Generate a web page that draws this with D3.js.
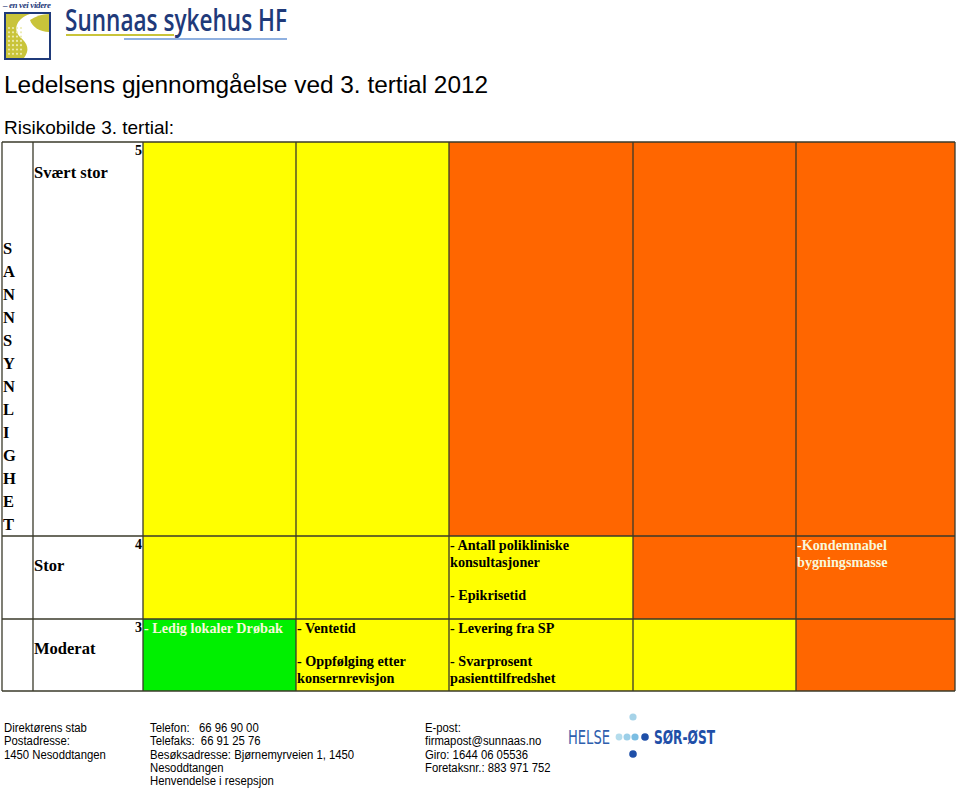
<!DOCTYPE html>
<html><head><meta charset="utf-8">
<script src="https://cdn.jsdelivr.net/npm/d3@7"></script>
<style>body{margin:0;background:#fff}svg{display:block}</style>
</head><body>
<script>
// ---- data ----
const titleText = "Ledelsens gjennomgåelse ved 3. tertial 2012";
const subtitleText = "Risikobilde 3. tertial:";
const axisWord = "SANNSYNLIGHET";
const rowLevels = [5, 4, 3];
const rowLabels = ["Svært stor", "Stor", "Moderat"];
const colLevels = [1, 2, 3, 4, 5];
// colour codes per row (Y = yellow, O = orange, G = green)
const row5Colors = ["Y", "Y", "O", "O", "O"];
const row4Colors = ["Y", "Y", "Y", "O", "O"];
const row3Colors = ["G", "Y", "Y", "Y", "O"];
// cell texts: [row, col, lines (empty string = blank line), light text?]
const cellTexts = [
  [4, 3, ["- Antall polikliniske", "konsultasjoner", "", "- Epikrisetid"], false],
  [4, 5, ["-Kondemnabel", "bygningsmasse"], true],
  [3, 1, ["- Ledig lokaler Drøbak"], true],
  [3, 2, ["- Ventetid", "", "- Oppfølging etter", "konsernrevisjon"], false],
  [3, 3, ["- Levering fra SP", "", "- Svarprosent", "pasienttilfredshet"], false]
];
const footerCol1 = ["Direktørens stab", "Postadresse:", "1450 Nesoddtangen"];
const footerCol2 = ["Telefon:   66 96 90 00", "Telefaks:  66 91 25 76", "Besøksadresse: Bjørnemyrveien 1, 1450", "Nesoddtangen", "Henvendelse i resepsjon"];
const footerCol3 = ["E-post:", "firmapost@sunnaas.no", "Giro: 1644 06 05536", "Foretaksnr.: 883 971 752"];

const colorMap = {Y: "#ffff00", O: "#ff6600", G: "#00f000"};

const W = 960, H = 789;
const svg = d3.select("body").append("svg").attr("width", W).attr("height", H)
  .style("font-family", "Liberation Sans, Arial, sans-serif");

// ---- scales ----
const x = d3.scaleLinear().domain([0, 1, 2, 3, 4, 5]).range([143, 296, 449, 633, 796, 955]);
const y = d3.scaleLinear().domain([6, 5, 4, 3]).range([142, 536, 619, 691]);
const xLeft = 2, xLab = 33;

// ---- header logo ----
const logo = svg.append("g");
logo.append("text").attr("x", 3).attr("y", 8).attr("font-family", "Liberation Serif, serif")
  .attr("font-style", "italic").attr("font-weight", "bold").attr("font-size", 9).attr("fill", "#1f3a7a")
  .attr("textLength", 48).text("– en vei videre");
logo.append("rect").attr("x", 5).attr("y", 13).attr("width", 45).attr("height", 46)
  .attr("fill", "#fff").attr("stroke", "#1f3a7a").attr("stroke-width", 2);
logo.append("path").attr("d", "M6,14 L30,14 C18,18 12,28 20,37 C28,44 30,50 24,58 L6,58 Z").attr("fill", "#c9c43a");
logo.append("path").attr("d", "M49,14 L49,32 C40,32 32,27 30,20 C36,16 42,14 49,14 Z").attr("fill", "#c9c43a");
const dots = [];
for (let i = 0; i < 4; i++) for (let j = 0; j < 7; j++) dots.push([9 + i * 4, 28 + j * 4.3]);
logo.selectAll("circle.d").data(dots).join("circle").attr("cx", d => d[0]).attr("cy", d => d[1]).attr("r", 1.1)
  .attr("fill", "#ecebb0");
logo.append("text").attr("x", 65).attr("y", 31).attr("font-family", "Open Sans, sans-serif").attr("font-weight", 600)
  .attr("font-size", 30).attr("fill", "#1f3a7a").attr("textLength", 222).attr("lengthAdjust", "spacingAndGlyphs")
  .text("Sunnaas sykehus HF");
logo.append("line").attr("x1", 66).attr("x2", 174).attr("y1", 35).attr("y2", 35).attr("stroke", "#c9c43a").attr("stroke-width", 2);
logo.append("line").attr("x1", 124).attr("x2", 287).attr("y1", 39).attr("y2", 39).attr("stroke", "#8fb0e0").attr("stroke-width", 2);

// ---- titles ----
svg.append("text").attr("x", 4).attr("y", 93).attr("font-size", 24.4).attr("fill", "#000").text(titleText);
svg.append("text").attr("x", 4).attr("y", 134).attr("font-size", 19).attr("fill", "#000").text(subtitleText);

// ---- cells ----
const colorRows = {5: row5Colors, 4: row4Colors, 3: row3Colors};
const cells = [];
rowLevels.forEach(r => colLevels.forEach((c, i) => cells.push({r, c, col: colorRows[r][i]})));
svg.append("g").selectAll("rect").data(cells).join("rect")
  .attr("x", d => x(d.c - 1)).attr("y", d => y(d.r + 1))
  .attr("width", d => x(d.c) - x(d.c - 1)).attr("height", d => y(d.r) - y(d.r + 1))
  .attr("fill", d => colorMap[d.col]);

// ---- grid lines ----
const grid = svg.append("g").attr("stroke", "#3a3a2a").attr("stroke-width", 1.3);
[xLeft, xLab, ...x.range()].forEach(v => grid.append("line").attr("x1", v).attr("x2", v).attr("y1", y(6)).attr("y2", y(3)));
y.range().forEach(v => grid.append("line").attr("x1", xLeft).attr("x2", x(5)).attr("y1", v).attr("y2", v));

// ---- row labels ----
const serif = "Liberation Serif, Times New Roman, serif";
const rl = svg.append("g").attr("font-family", serif).attr("font-weight", "bold").attr("fill", "#000");
rowLevels.forEach((r, i) => {
  const top = y(r + 1);
  rl.append("text").attr("x", x(0) - 1).attr("y", top + 13).attr("text-anchor", "end").attr("font-size", 14).text(r);
  const ly = r === 5 ? top + 36 : top + 35;
  rl.append("text").attr("x", xLab + 1).attr("y", ly).attr("font-size", 16.5).text(rowLabels[i]);
});
// vertical word
rl.selectAll("text.v").data(axisWord.split("")).join("text")
  .attr("x", 3).attr("y", (d, i) => 254 + i * 23).attr("font-size", 16.5).text(d => d);

// ---- cell texts ----
const ct = svg.append("g").attr("font-family", serif).attr("font-weight", "bold").attr("font-size", 14.2);
cellTexts.forEach(([r, c, lines, light]) => {
  const t = ct.append("text").attr("fill", light ? "#f8f8dc" : "#000");
  lines.forEach((ln, k) => {
    t.append("tspan").attr("x", x(c - 1) + 1).attr("y", y(r + 1) + 14 + k * 16.7).text(ln);
  });
});

// ---- footer ----
const ft = svg.append("g").attr("font-size", 12.5).attr("fill", "#000");
[[footerCol1, 4], [footerCol2, 150], [footerCol3, 425]].forEach(([arr, fx]) => {
  const g = ft.append("g").attr("transform", `translate(${fx},0) scale(0.905,1)`);
  arr.forEach((s, k) => g.append("text").attr("x", 0).attr("y", 732 + k * 13.3).style("white-space", "pre").text(s));
});

// ---- Helse Sør-Øst logo ----
const hl = svg.append("g");
hl.append("text").attr("x", 568).attr("y", 744).attr("font-family", "DejaVu Sans Condensed, sans-serif")
  .attr("font-size", 19).attr("fill", "#2f5fae").attr("textLength", 42).attr("lengthAdjust", "spacingAndGlyphs").text("HELSE");
hl.append("text").attr("x", 654).attr("y", 744).attr("font-family", "DejaVu Sans Condensed, sans-serif")
  .attr("font-weight", "bold").attr("font-size", 19).attr("fill", "#1f4fa8").attr("textLength", 61).attr("lengthAdjust", "spacingAndGlyphs").text("SØR-ØST");
const hd = [[633, 717, "#a6d3e8", 3.6], [619, 737, "#b4dcec", 3.4], [627, 737, "#9ccfe8", 3.5], [635, 737, "#7bbde2", 3.6], [645, 737, "#1f4fa8", 3.8], [633, 754, "#1f4fa8", 3.8]];
hl.selectAll("circle").data(hd).join("circle").attr("cx", d => d[0]).attr("cy", d => d[1]).attr("r", d => d[3]).attr("fill", d => d[2]);
</script>
</body></html>
